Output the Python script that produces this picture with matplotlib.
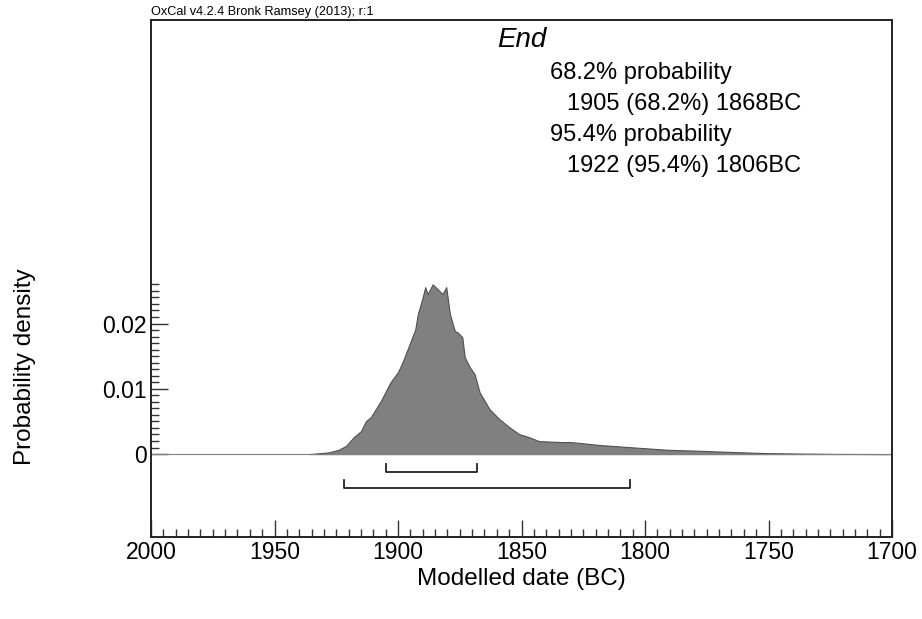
import numpy as np
import matplotlib.pyplot as plt
from matplotlib.ticker import FixedLocator, MultipleLocator

plt.rcParams['font.family'] = ['Liberation Sans', 'DejaVu Sans']

# Distribución posterior de "End" (años BC)
years = [1936, 1928, 1924, 1921, 1918, 1915, 1913, 1911, 1907, 1903, 1900,
         1898, 1895, 1893, 1892, 1890, 1889, 1888, 1886, 1884, 1882, 1880.5,
         1879, 1877, 1876, 1874, 1873, 1871, 1869, 1867, 1863, 1859, 1855,
         1851, 1847, 1843, 1834, 1830, 1818, 1805, 1791, 1778, 1764, 1751,
         1737, 1724, 1700]
density = [0.0, 0.00026, 0.00066, 0.00127, 0.00256, 0.00352, 0.00505, 0.00567,
           0.00812, 0.01103, 0.01256, 0.01424, 0.01715, 0.01914, 0.02144,
           0.02404, 0.02557, 0.0245, 0.0260, 0.02527, 0.0245, 0.02557,
           0.02144, 0.01884, 0.01868, 0.01792, 0.01485, 0.01332, 0.01225,
           0.00949, 0.00689, 0.00536, 0.00413, 0.00306, 0.0026, 0.00199,
           0.00184, 0.00184, 0.00138, 0.00103, 0.00066, 0.00051, 0.00031,
           0.00015, 0.00008, 0.00003, 0.0]

# Intervalos de probabilidad
range_68 = (1905, 1868)
range_95 = (1922, 1806)

fig = plt.figure(figsize=(9.22, 6.19), dpi=100)
ax = fig.add_axes([0.1638, 0.1325, 0.8037, 0.8352])

ax.fill_between(years, density, 0, color='#808080', edgecolor='#505050', linewidth=0.8)
ax.plot([2000, 1700], [0, 0], color='#808080', linewidth=0.8)

# Corchetes de los intervalos
tip = 0.0012
for (a, b), yb in [(range_68, -0.0027), (range_95, -0.0052)]:
    ax.plot([a, a, b, b], [yb + tip, yb, yb, yb + tip], color='#222222', linewidth=1.3)

ax.set_xlim(2000, 1700)
ax.set_ylim(-0.0127, 0.0665)

ax.xaxis.set_major_locator(MultipleLocator(50))
ax.xaxis.set_minor_locator(MultipleLocator(5))
ax.yaxis.set_major_locator(FixedLocator([0, 0.01, 0.02]))
ax.yaxis.set_minor_locator(FixedLocator(np.arange(0, 0.0265, 0.001)))
ax.set_yticklabels(['0', '0.01', '0.02'])

ax.tick_params(which='both', direction='in', width=1.0, color='#333333',
               labelsize=16.5, top=False, right=False)
ax.tick_params(which='major', length=12, pad=3)
ax.tick_params(which='minor', length=5.5)

for s in ax.spines.values():
    s.set_linewidth(1.4)
    s.set_color('#222222')

ax.set_xlabel('Modelled date (BC)', fontsize=17.5, va='center')
ax.set_ylabel('Probability density', fontsize=17.5, va='center')
ax.xaxis.set_label_coords(0.5, -0.082)
ax.yaxis.set_label_coords(-0.170, 0.329)

fig.text(151 / 922, 1 - 12 / 619, 'OxCal v4.2.4 Bronk Ramsey (2013); r:1',
         fontsize=9.2, va='center', ha='left')

fig.text(497 / 922, 1 - 40 / 619, 'End', fontsize=20, style='italic',
         va='center', ha='left')
lines = ['68.2% probability', '1905 (68.2%) 1868BC',
         '95.4% probability', '1922 (95.4%) 1806BC']
xs = [550, 567, 550, 567]
ys = [73, 104, 135, 166]
for t, x, y in zip(lines, xs, ys):
    fig.text(x / 922, 1 - y / 619, t, fontsize=17, va='center', ha='left')

fig.savefig('out.png', dpi=100)
